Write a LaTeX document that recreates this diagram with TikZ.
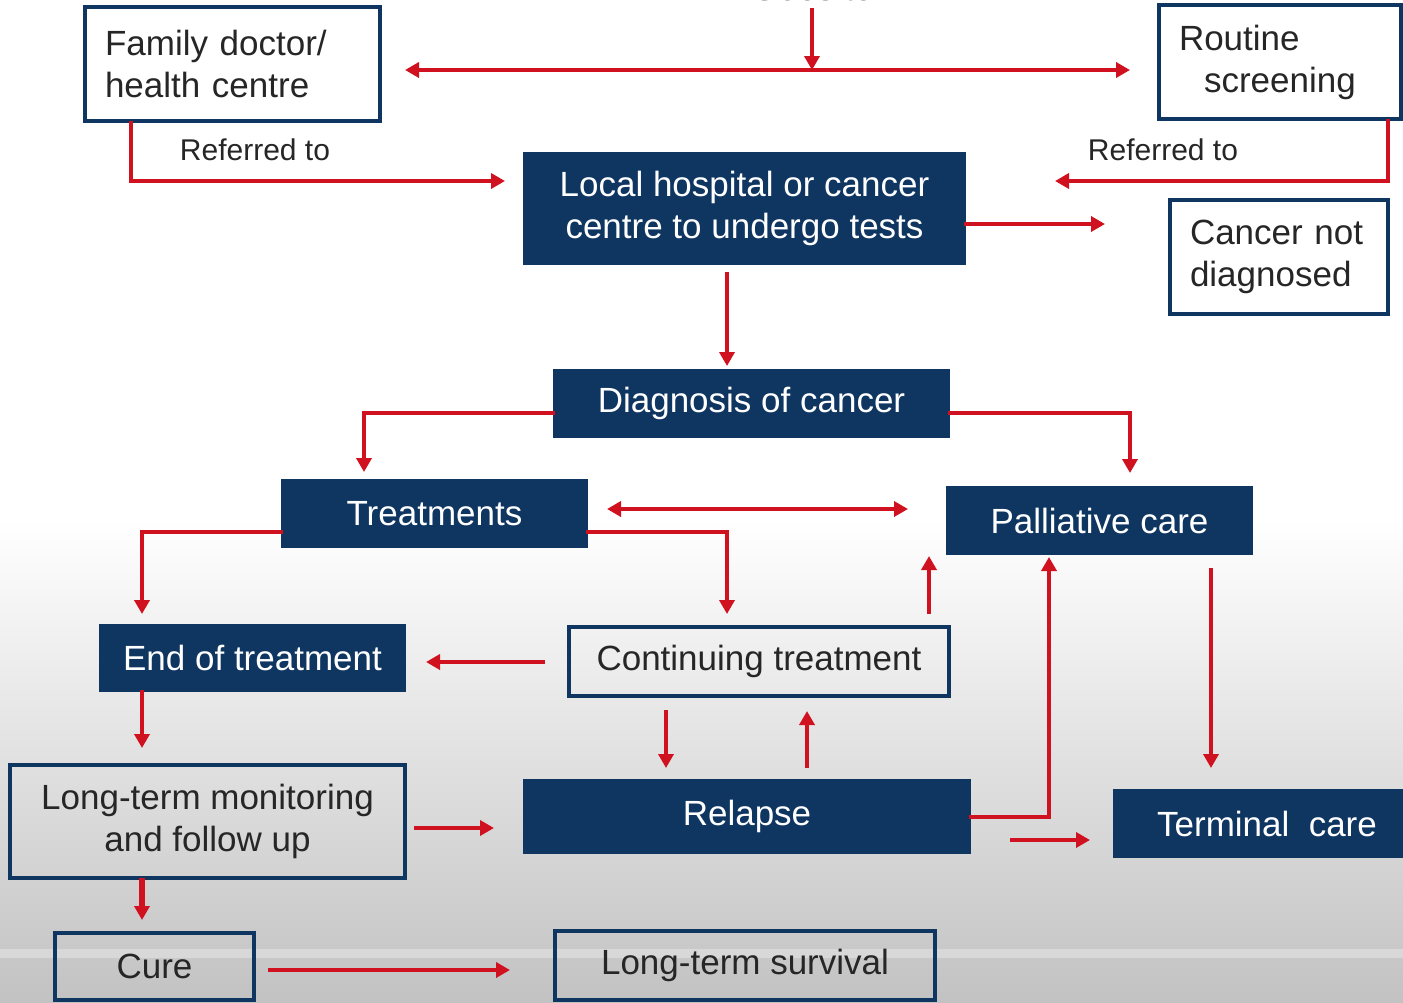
\documentclass[tikz,border=0pt]{standalone}
\usepackage{fontspec}
\setmainfont{Liberation Sans}
\usetikzlibrary{arrows.meta,calc}
\definecolor{navy}{HTML}{0F3561}
\definecolor{myred}{HTML}{D0111F}
\definecolor{txt}{HTML}{262626}
\definecolor{bggray}{HTML}{C2C2C2}
\begin{document}
\begin{tikzpicture}[x=0.5pt,y=-0.5pt,
  font=\fontsize{17.5}{21}\selectfont,
  base/.style={rectangle, line width=1.6pt, inner sep=0pt, outer sep=0pt},
  dark/.style={base, fill=navy, draw=navy, text=white, align=center},
  light/.style={base, draw=navy, fill=white, text=txt},
  clear/.style={base, draw=navy, text=txt, align=center},
  lbl/.style={text=txt, font=\fontsize{15}{18}\selectfont, inner sep=0pt},
  tip/.style={-{Triangle[length=7pt,width=7.5pt]}},
  arr/.style={draw=myred, line width=2pt, tip},
  dbl/.style={arr, {Triangle[length=7pt,width=7.5pt]}-{Triangle[length=7pt,width=7.5pt]}}
]
\useasboundingbox (0,0) rectangle (1403,1002);
\clip (0,0) rectangle (1403,1002);
% background
\fill[white] (0,0) rectangle (1403,1002);
\shade[top color=white, bottom color=bggray] (0,520) rectangle (1403,1002);
\fill[white, opacity=0.3] (0,949) rectangle (1403,958);

% nodes
\node[lbl, font=\fontsize{17.5}{21}\selectfont] (goes) at (812,-12) {Goes to};
\node[light, minimum width=295*0.5pt, minimum height=114*0.5pt, text width=255*0.5pt, align=left] (fam) at (232.5,64) {Family doctor/\\health centre};
\node[light, minimum width=242*0.5pt, minimum height=114*0.5pt, text width=202*0.5pt, align=left] (rout) at (1280,62) {Routine\\\hspace*{12.5pt}screening};
\node[dark, minimum width=439*0.5pt, minimum height=109*0.5pt] (local) at (744.5,208.5) {Local hospital or cancer\\centre to undergo tests};
\node[light, minimum width=218*0.5pt, minimum height=114*0.5pt, text width=178*0.5pt, align=left] (cnd) at (1279,257) {Cancer not\\diagnosed};
\node[dark, minimum width=393*0.5pt, minimum height=65*0.5pt] (diag) at (751.5,403.5) {Diagnosis of cancer};
\node[dark, minimum width=303*0.5pt, minimum height=65*0.5pt] (treat) at (434.5,513.5) {Treatments};
\node[dark, minimum width=303*0.5pt, minimum height=65*0.5pt] (pall) at (1099.5,520.5) {Palliative care};
\node[dark, minimum width=303*0.5pt, minimum height=64*0.5pt] (eot) at (252.5,658) {End of treatment};
\node[clear, minimum width=380*0.5pt, minimum height=69*0.5pt] (cont) at (759,661.5) {Continuing treatment};
\node[clear, minimum width=395*0.5pt, minimum height=113*0.5pt] (ltm) at (207.5,821.5) {Long-term monitoring\\and follow up};
\node[dark, minimum width=444*0.5pt, minimum height=71*0.5pt] (rel) at (747,816.5) {Relapse};
\node[dark, minimum width=304*0.5pt, minimum height=65*0.5pt] (term) at (1267,823.5) {Terminal\ \ care};
\node[clear, minimum width=199*0.5pt, minimum height=67*0.5pt] (cure) at (154.5,966.5) {Cure};
\node[clear, minimum width=380*0.5pt, minimum height=69*0.5pt] (lts) at (745,965.5) {Long-term survival};

% labels
\node[lbl] (ref1) at (255,150) {Referred to};
\node[lbl] (ref2) at (1163,150) {Referred to};

% connectors
\coordinate (gtop) at (812,8);
\coordinate (hmid) at (812,70);
\draw[arr] (gtop) -- (hmid);
\draw[dbl] ($(fam.east)+(25,6)$) -- ($(rout.west)+(-29,8)$);
\draw[arr] ($(fam.south west)+(46,0)$) |- ($(local.west)+(-20,-27.5)$);
\draw[arr] ($(rout.south east)+(-13,0)$) |- ($(local.east)+(91,-27.5)$);
\draw[arr] ($(local.east)+(0,15.5)$) -- ($(cnd.west)+(-65,-33)$);
\draw[arr] ($(local.south)+(-17.5,9)$) -- ($(diag.north)+(-24.5,-5)$);
\draw[arr] ($(diag.west)+(0,9.5)$) -| ($(treat.north)+(-70.5,-9)$);
\draw[arr] ($(diag.east)+(0,9.5)$) -| ($(pall.north)+(30.5,-15)$);
\draw[dbl] ($(treat.east)+(21,-4.5)$) -- ($(pall.west)+(-40,-11.5)$);
\draw[arr] ($(treat.west)+(0,18.5)$) -| ($(eot.north)+(-110.5,-12)$);
\draw[arr] ($(treat.east)+(0,18.5)$) -| ($(cont.north)+(-32,-13)$);
\draw[arr] ($(cont.north)+(170,-13)$) -- ($(pall.south west)+(-19,3)$);
\draw[arr] ($(cont.west)+(-24,0.5)$) -- ($(eot.east)+(22,4)$);
\draw[arr] ($(cont.south)+(-93,14)$) -- ($(rel.north)+(-81,-13)$);
\draw[arr] ($(rel.north)+(60,-13)$) -- ($(cont.south)+(48,15)$);
\draw[arr] ($(eot.south)+(-110.5,0)$) -- ($(ltm.north)+(-65.5,-17)$);
\draw[arr] ($(ltm.east)+(9,6.5)$) -- ($(rel.west)+(-31,11.5)$);
\draw[arr, line width=3pt] ($(ltm.south)+(-65.5,0)$) -- ($(cure.north)+(-12.5,-13)$);
\draw[arr] ($(cure.east)+(14,3.5)$) -- ($(lts.west)+(-45,4.5)$);
\draw[arr] (rel.east) -| ($(pall.south)+(-50.5,4)$);
\draw[arr] ($(pall.south)+(111.5,15)$) -- ($(term.north)+(-56,-23)$);
\draw[arr] ($(rel.east)+(41,23.5)$) -- ($(term.west)+(-25,16.5)$);
\end{tikzpicture}
\end{document}
